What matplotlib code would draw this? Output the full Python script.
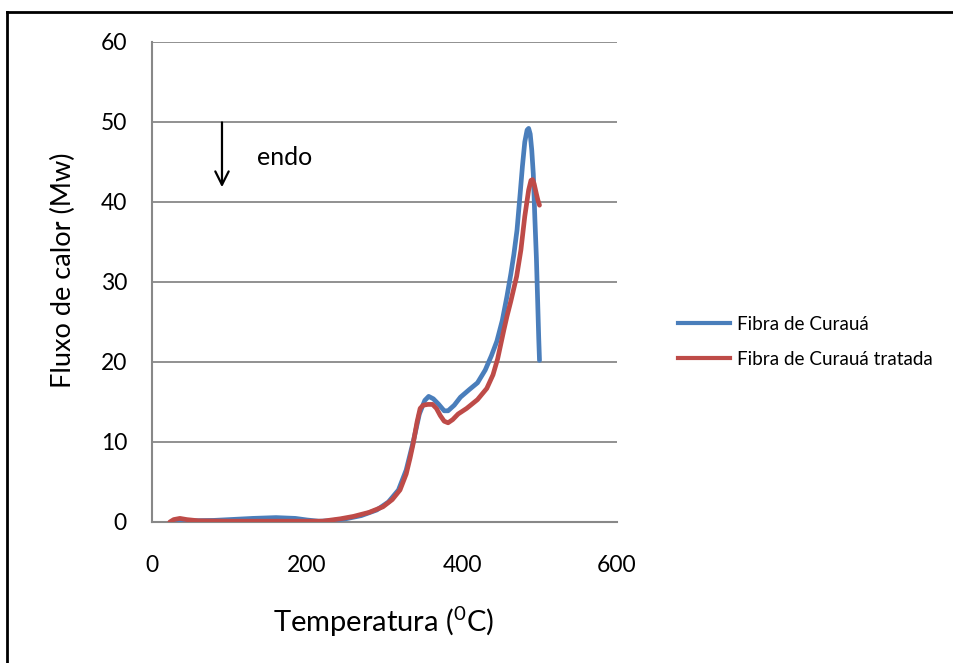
import matplotlib
matplotlib.use("Agg")
import matplotlib.pyplot as plt
from matplotlib.lines import Line2D

plt.rcParams['font.family'] = ['Lato', 'DejaVu Sans']
plt.rcParams['mathtext.fontset'] = 'custom'
plt.rcParams['mathtext.rm'] = 'Lato'
plt.rcParams['mathtext.it'] = 'Lato'

# Data
blue_x = [30, 50, 80, 100, 130, 160, 185, 200, 215, 230, 250, 270, 290, 305, 318, 328,
          337, 345, 352, 357, 363, 370, 377, 382, 390, 398, 410, 420, 430, 438, 445,
          452, 458, 463, 467, 471, 475, 478, 481, 484, 486, 488, 490, 492, 494, 496, 497.6,
          499, 500]
blue_y = [0.2, 0.15, 0.2, 0.3, 0.45, 0.55, 0.45, 0.25, 0.1, 0.15, 0.4, 0.8, 1.5, 2.5,
          4.0, 6.5, 10, 13.5, 15.2, 15.7, 15.4, 14.7, 13.9, 13.9, 14.6, 15.6, 16.6, 17.4,
          19.0, 20.8, 22.6, 25.2, 28.2, 31.0, 33.5, 36.5, 41, 44.5, 47.5, 49.0, 49.2, 48.5,
          46.5, 43.5, 38, 33, 27.7, 23, 20.2]

red_x = [23, 28, 36, 45, 60, 100, 150, 200, 220, 243, 260, 280, 298, 310, 320, 328, 333,
         337, 342, 346, 350, 356, 362, 367, 372, 377, 382, 388, 395, 406, 420, 432, 440,
         446, 450, 454, 458, 463, 470.5, 476, 481, 486, 489, 491, 493, 496, 498, 500]
red_y = [0.0, 0.3, 0.45, 0.3, 0.15, 0.1, 0.1, 0.1, 0.1, 0.4, 0.7, 1.2, 1.9, 2.8, 4.0, 6.0,
         8.0, 9.8, 12.5, 14.2, 14.6, 14.7, 14.7, 14.2, 13.3, 12.6, 12.4, 12.8, 13.5, 14.2,
         15.3, 16.7, 18.4, 20.4, 22.2, 24.0, 25.7, 27.6, 30.7, 34, 38.2, 41.5, 42.7, 42.8,
         42.3, 41, 40.2, 39.6]

labels = ['Fibra de Curauá', 'Fibra de Curauá tratada']
colors = ['#4A7EBB', '#BE4B48']
x_ticks = [0, 200, 400, 600]
y_ticks = [0, 10, 20, 30, 40, 50, 60]

W, H = 954, 663
fig = plt.figure(figsize=(W / 100, H / 100), dpi=100)
ax = fig.add_axes([152 / W, 1 - 522 / H, (617 - 152) / W, (522 - 42) / H])

ax.plot(blue_x, blue_y, color=colors[0], lw=3.4, solid_capstyle='round',
        solid_joinstyle='round', label=labels[0], zorder=3)
ax.plot(red_x, red_y, color=colors[1], lw=3.4, solid_capstyle='round',
        solid_joinstyle='round', label=labels[1], zorder=4)

ax.set_xlim(0, 600)
ax.set_ylim(0, 60)
ax.set_xticks(x_ticks)
ax.set_yticks(y_ticks)
ax.tick_params(length=0, labelsize=16.5, colors='black')
ax.tick_params(axis='x', pad=24)
ax.tick_params(axis='y', pad=18)
ax.grid(axis='y', color='#888888', lw=1.3)
ax.set_axisbelow(True)
for s in ['top', 'right']:
    ax.spines[s].set_visible(False)
for s in ['left', 'bottom']:
    ax.spines[s].set_color('#888888')
    ax.spines[s].set_linewidth(1.5)

# endo arrow
ax.annotate('', xy=(90.3, 41.5), xytext=(90.3, 50.3),
            arrowprops=dict(arrowstyle='->', color='black', lw=1.6, mutation_scale=24))
ax.text(135.5, 45.6, 'endo', fontsize=18, va='center', ha='left')

fig.text(384 / W, 1 - 622 / H, 'Temperatura ($^{\\mathrm{0}}$C)', fontsize=21,
         ha='center', va='center')
fig.text(63 / W, 1 - 270 / H, 'Fluxo de calor (Mw)', fontsize=19.5, rotation=90,
         ha='center', va='center')

handles = [Line2D([], [], color=c, lw=3) for c in colors]
fig.legend(handles, labels, loc='center left', bbox_to_anchor=(678 / W, 1 - 342 / H),
           frameon=False, fontsize=13.6, handlelength=2.75, handletextpad=0.35,
           labelspacing=0.95, borderpad=0, borderaxespad=0)

# outer frame (left and top edges)
fig.add_artist(Line2D([7 / W, 7 / W], [0, 1 - 12 / H], color='black', lw=2,
                      transform=fig.transFigure))
fig.add_artist(Line2D([7 / W, 1], [1 - 12 / H, 1 - 12 / H], color='black', lw=2,
                      transform=fig.transFigure))

fig.savefig('out.png', dpi=100)
